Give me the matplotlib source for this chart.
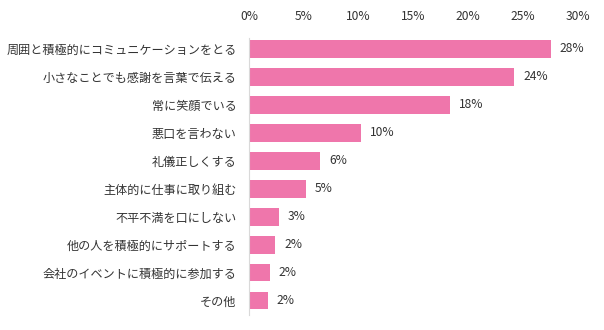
import matplotlib
matplotlib.use("Agg")
import matplotlib.pyplot as plt

plt.rcParams['font.family'] = ['Noto Sans CJK JP', 'DejaVu Sans']

categories = ["周囲と積極的にコミュニケーションをとる", "小さなことでも感謝を言葉で伝える", "常に笑顔でいる",
              "悪口を言わない", "礼儀正しくする", "主体的に仕事に取り組む", "不平不満を口にしない",
              "他の人を積極的にサポートする", "会社のイベントに積極的に参加する", "その他"]
values = [27.5, 24.2, 18.3, 10.2, 6.5, 5.2, 2.7, 2.4, 1.9, 1.7]
value_labels = ["28%", "24%", "18%", "10%", "6%", "5%", "3%", "2%", "2%", "2%"]
xticks = [0, 5, 10, 15, 20, 25, 30]
xtick_labels = ["0%", "5%", "10%", "15%", "20%", "25%", "30%"]

fig = plt.figure(figsize=(6.04, 3.30), dpi=100)
ax = fig.add_axes([249/604, 1-315/330, (578-249)/604, (315-38)/330])
y = list(range(len(categories)))
ax.barh(y, values, height=0.64, color='#EF76AB')
ax.set_xlim(0, 30)
ax.set_ylim(9.52, -0.39)
ax.set_yticks(y)
ax.set_yticklabels(categories, fontsize=8.7, color='#333333')
ax.xaxis.tick_top()
ax.set_xticks(xticks)
ax.set_xticklabels(xtick_labels, fontsize=8.7, color='#333333')
ax.tick_params(axis='both', length=0)
ax.tick_params(axis='x', pad=11)
ax.tick_params(axis='y', pad=9)
for s in ['top', 'right', 'bottom']:
    ax.spines[s].set_visible(False)
ax.spines['left'].set_color('#D9D9D9')
ax.spines['left'].set_linewidth(0.8)
for yi, v, t in zip(y, values, value_labels):
    ax.annotate(t, (v, yi), xytext=(9, 0), textcoords='offset pixels',
                va='center', ha='left', fontsize=8.7, color='#333333')
fig.savefig('out.png', dpi=100)
